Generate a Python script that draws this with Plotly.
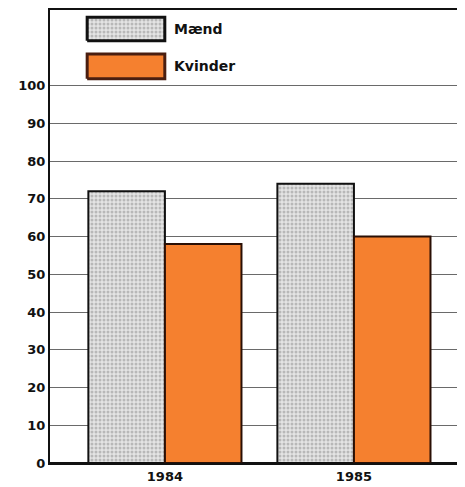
import plotly.graph_objects as go

years = ["1984", "1985"]
maend = [72, 74]
kvinder = [58, 60]
y_ticks = [0, 10, 20, 30, 40, 50, 60, 70, 80, 90, 100]

grey_pattern = dict(shape=".", bgcolor="#e4e4e4", fgcolor="#8c8c8c", size=4, solidity=0.45)
orange = "#f5802f"
tick_font = dict(family="DejaVu Sans", size=13, color="#111", weight="bold")

fig = go.Figure()
fig.add_trace(go.Bar(x=years, y=maend, name="Mænd",
                     marker=dict(color="#e4e4e4", pattern=grey_pattern,
                                 line=dict(color="#111", width=2))))
fig.add_trace(go.Bar(x=years, y=kvinder, name="Kvinder",
                     marker=dict(color=orange, line=dict(color="#2a0f05", width=2))))

# legend drawn by hand: big swatches on an overlay axis spanning the plot area
legend_items = [("Mænd", 0.984, 0.932), ("Kvinder", 0.903, 0.848)]
for i, (label, y_top, y_bot) in enumerate(legend_items):
    xs = [0.090, 0.278, 0.278, 0.090, 0.090]
    ys = [y_bot, y_bot, y_top, y_top, y_bot]
    if i == 0:
        fig.add_trace(go.Scatter(x=xs, y=ys, xaxis="x2", yaxis="y2", mode="lines",
                                 fill="toself", fillcolor="#e4e4e4", fillpattern=grey_pattern,
                                 line=dict(color="#111", width=3), showlegend=False,
                                 hoverinfo="skip"))
    else:
        fig.add_trace(go.Scatter(x=xs, y=ys, xaxis="x2", yaxis="y2", mode="lines",
                                 fill="toself", fillcolor=orange,
                                 line=dict(color="#4a1e10", width=3), showlegend=False,
                                 hoverinfo="skip"))
    fig.add_annotation(x=0.295, y=(y_top + y_bot) / 2, xref="x2", yref="y2", text=label,
                       showarrow=False, xanchor="left", yanchor="middle",
                       font=dict(family="DejaVu Sans", size=14, color="#111", weight="bold"))

# page body adds an 8px offset, so the figure is shrunk to fit the window
fig.update_layout(
    width=457, height=479,
    margin=dict(l=42, r=2, t=2, b=24, autoexpand=False),
    paper_bgcolor="white", plot_bgcolor="white",
    barmode="group", bargap=0.19, bargroupgap=0,
    showlegend=False,
    xaxis=dict(type="category", range=[-0.608, 1.577], showline=True, mirror=True,
               linecolor="#111", linewidth=2, ticks="", showgrid=False,
               tickfont=tick_font),
    yaxis=dict(range=[0, 120], tickvals=y_ticks, showline=True, mirror=True,
               linecolor="#111", linewidth=2, showgrid=True, gridcolor="#6a6a6a", gridwidth=1.2,
               zeroline=True, zerolinecolor="#111", zerolinewidth=2, ticks="",
               tickfont=tick_font),
    xaxis2=dict(range=[0, 1], overlaying="x", visible=False, fixedrange=True),
    yaxis2=dict(range=[0, 1], overlaying="y", visible=False, fixedrange=True),
)

fig.write_html("out.html")
